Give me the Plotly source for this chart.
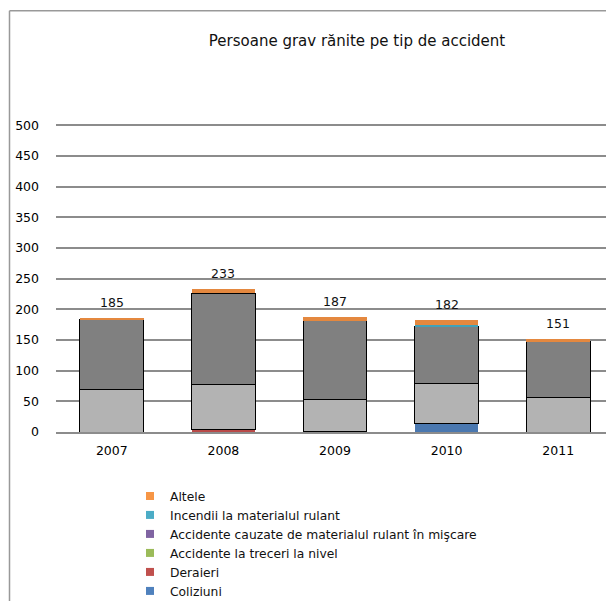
import plotly.graph_objects as go

years = ["2007", "2008", "2009", "2010", "2011"]
coliziuni = [0, 0, 1, 14, 0]
deraieri = [0, 4, 0, 0, 0]
treceri_nivel = [70, 74, 52, 65, 57]
material_rulant = [114, 148, 128, 93, 90]
incendii = [0, 0, 0, 2, 0]
altele = [1, 7, 6, 8, 4]
totals = [185, 233, 187, 182, 151]
y_ticks = [0, 50, 100, 150, 200, 250, 300, 350, 400, 450, 500]

series = [
    ("Coliziuni", coliziuni, "#4A78B0", "#4F81BD", 0),
    ("Deraieri", deraieri, "#B94A48", "#C0504D", 0),
    ("Accidente la treceri la nivel", treceri_nivel, "#B3B3B3", "#9BBB59", 1),
    ("Accidente cauzate de materialul rulant în mişcare", material_rulant, "#808080", "#8064A2", 1),
    ("Incendii la materialul rulant", incendii, "#41A2BA", "#4BACC6", 0),
    ("Altele", altele, "#E4883F", "#F79646", 0),
]

FONT = "DejaVu Sans, Liberation Sans, Arial, sans-serif"

fig = go.Figure()
for name, vals, col, lcol, lw in series:
    fig.add_trace(go.Bar(
        x=years, y=vals, name=name, showlegend=False,
        marker=dict(color=col, line=dict(color="#000000", width=lw)),
    ))
for name, vals, col, lcol, lw in series:
    fig.add_trace(go.Scatter(
        x=[years[0]], y=[None], mode="markers", name=name,
        marker=dict(symbol="square", size=8, color=lcol),
    ))

for i, t in enumerate(totals):
    fig.add_annotation(x=i, y=t, text=str(t), showarrow=False,
                       yanchor="bottom", yshift=6,
                       font=dict(size=12.5, color="#111"))

OFF = 8  # page offset of the figure inside the window
YMAX = 502
W, H = 614 - OFF, 601 - OFF
L, R = 56 - OFF, 0
y0_px = 431.7 - OFF
scale = (431.7 - 125.7) / 500.0
T = y0_px - YMAX * scale
B = H - y0_px
pw = W - L - R
ph = H - T - B

def px_x(p):
    return (p - OFF - L) / pw

def px_y(p):
    return (y0_px - (p - OFF)) / ph

fig.add_shape(type="line", xref="paper", yref="paper",
              x0=px_x(9.5), x1=px_x(700), y0=px_y(11.5), y1=px_y(11.5),
              line=dict(color="#999999", width=1.5))
fig.add_shape(type="line", xref="paper", yref="paper",
              x0=px_x(9.5), x1=px_x(9.5), y0=px_y(11.5), y1=px_y(700),
              line=dict(color="#999999", width=1.5))

fig.update_layout(
    width=W, height=H,
    margin=dict(l=L, r=R, t=T, b=B, pad=0, autoexpand=False),
    paper_bgcolor="white", plot_bgcolor="white",
    barmode="stack", bargap=0.43,
    font=dict(family=FONT, size=12.5, color="#000"),
    title=dict(text="Persoane grav rănite pe tip de accident",
               x=(357 - OFF) / W, xanchor="center", y=1 - (41 - OFF) / H, yanchor="middle",
               font=dict(size=15, color="#111")),
    xaxis=dict(type="category", range=[-0.5, 4.5], showgrid=False, showline=True,
               linecolor="#8C8C8C", linewidth=1.5, ticks="", ticklabelstandoff=6,
               tickfont=dict(size=12.5)),
    yaxis=dict(range=[0, YMAX], tickvals=y_ticks, showgrid=True,
               gridcolor="#8C8C8C", gridwidth=1.5, zeroline=False,
               showline=False, ticks="", ticklabelstandoff=16,
               tickfont=dict(size=12.5)),
    legend=dict(x=px_x(130), y=px_y(481), xanchor="left", yanchor="top",
                traceorder="reversed", font=dict(size=12.3, color="#111"),
                bgcolor="rgba(0,0,0,0)", tracegroupgap=0, itemwidth=30),
)

fig.write_html("out.html")
